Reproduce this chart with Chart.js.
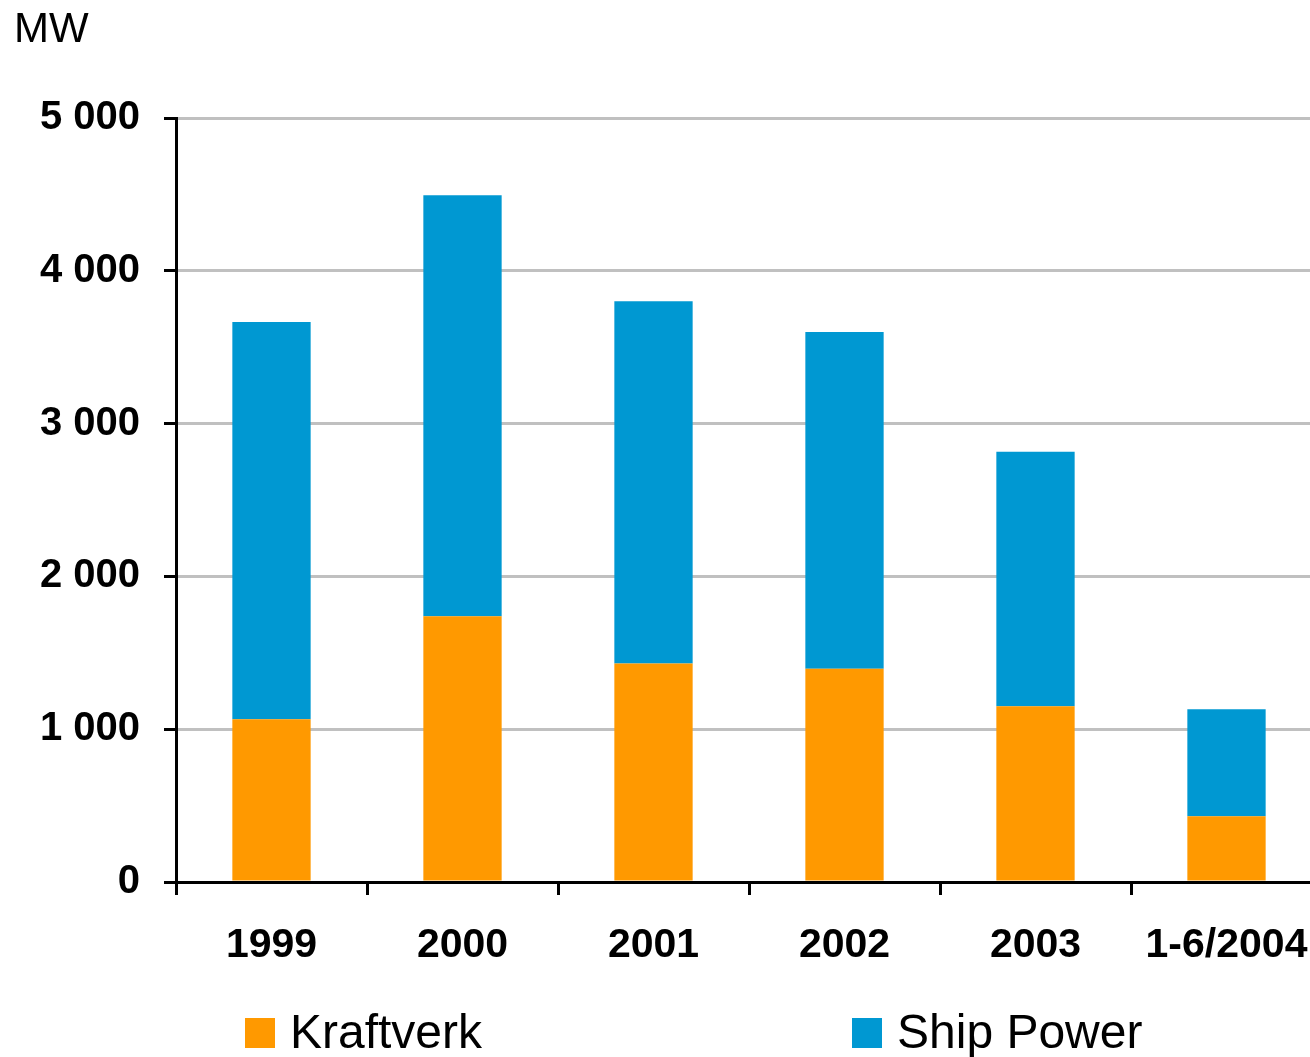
<!DOCTYPE html>
<html>
<head>
<meta charset="utf-8">
<title>MW</title>
<script src="https://cdn.jsdelivr.net/npm/chart.js@4.4.1/dist/chart.umd.min.js"></script>
<style>
    html, body { margin: 0; padding: 0; background: #ffffff; overflow: hidden; }
    /* plot area runs a little past the right edge of the window, as in the original */
    #mwChart { display: block; }
</style>
</head>
<body>
<canvas id="mwChart" width="1322" height="1057"></canvas>
<script>
// Data
const categories = ['1999', '2000', '2001', '2002', '2003', '1-6/2004'];
const kraftverk = [1065, 1740, 1430, 1395, 1150, 430];
const shipPower = [2600, 2755, 2370, 2205, 1665, 700];
const yTicks = [0, 1000, 2000, 3000, 4000, 5000];

const FONT = "'Liberation Sans', Arial, sans-serif";

function spaced(v) {
    return String(v).replace(/\B(?=(\d{3})+(?!\d))/g, ' ');
}

// Unit label top-left and legend along the bottom
const decorations = {
    id: 'decorations',
    afterDraw(chart) {
        const c = chart.ctx;
        c.save();
        c.fillStyle = '#000000';
        c.font = '42px ' + FONT;
        c.textBaseline = 'alphabetic';
        c.fillText('MW', 14, 42);

        const slots = [245, 852];
        chart.data.datasets.forEach(function(ds, i) {
            const x = slots[i];
            c.fillStyle = ds.backgroundColor;
            c.fillRect(x, 1018, 30, 30);
            c.fillStyle = '#000000';
            c.font = '48px ' + FONT;
            c.fillText(ds.label, x + 45, 1048);
        });
        c.restore();
    }
};

const ctx = document.getElementById('mwChart').getContext('2d');
new Chart(ctx, {
    type: 'bar',
    data: {
        labels: categories,
        datasets: [{
            label: 'Kraftverk',
            data: kraftverk,
            backgroundColor: '#FF9900',
            categoryPercentage: 1,
            barPercentage: 0.41
        }, {
            label: 'Ship Power',
            data: shipPower,
            backgroundColor: '#0098D2',
            categoryPercentage: 1,
            barPercentage: 0.41
        }]
    },
    options: {
        responsive: false,
        animation: false,
        layout: {
            padding: { top: 118, right: 0, bottom: 75, left: 0 }
        },
        plugins: {
            legend: { display: false },
            tooltip: { enabled: false }
        },
        scales: {
            x: {
                stacked: true,
                afterFit: function(s) {
                    s.height = 100;
                    s.paddingLeft = 0;
                    s.paddingRight = 0;
                },
                grid: {
                    offset: true,
                    drawOnChartArea: false,
                    drawTicks: true,
                    tickLength: 13,
                    tickWidth: 3,
                    tickColor: '#000000'
                },
                border: { color: '#000000', width: 3 },
                ticks: {
                    color: '#000000',
                    padding: 26,
                    maxRotation: 0,
                    autoSkip: false,
                    font: { family: FONT, size: 41, weight: 'bold' }
                }
            },
            y: {
                stacked: true,
                min: 0,
                max: 5000,
                afterFit: function(s) { s.width = 176; },
                afterBuildTicks: function(s) {
                    s.ticks = yTicks.map(function(v) { return { value: v }; });
                },
                grid: {
                    color: '#C0C0C0',
                    lineWidth: 3,
                    drawTicks: true,
                    tickLength: 12,
                    tickWidth: 3,
                    tickColor: '#000000'
                },
                border: { color: '#000000', width: 3 },
                ticks: {
                    color: '#000000',
                    padding: 24,
                    font: { family: FONT, size: 40, weight: 'bold' },
                    callback: function(v) { return spaced(v); }
                }
            }
        }
    },
    plugins: [decorations]
});
</script>
</body>
</html>
